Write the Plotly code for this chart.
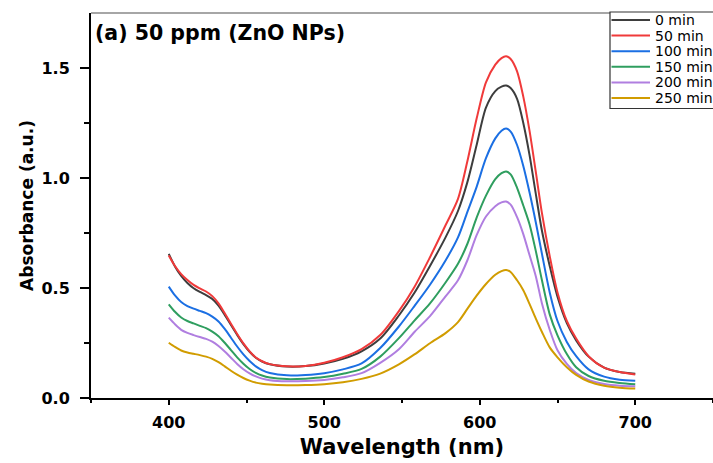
import plotly.graph_objects as go

# UV-Vis absorbance spectra of the dye during photocatalytic degradation
wavelength = [400, 404, 408, 412, 416, 420, 424, 428, 432, 436, 440, 444, 448, 452, 456, 460,
              465, 476, 488, 500, 512, 524, 536, 548, 558, 568, 578, 586, 592, 598, 604, 610,
              614, 617, 620, 624, 628, 632, 636, 640, 645, 650, 656, 662, 670, 680, 690, 700]

abs_0min = [0.655, 0.598, 0.555, 0.523, 0.499, 0.482, 0.468, 0.450, 0.420, 0.378, 0.332, 0.287, 0.245, 0.210, 0.183, 0.166,
            0.153, 0.143, 0.145, 0.157, 0.178, 0.212, 0.270, 0.375, 0.478, 0.600, 0.730, 0.850, 0.980, 1.150, 1.320, 1.395,
            1.415, 1.420, 1.408, 1.360, 1.250, 1.105, 0.930, 0.760, 0.600, 0.460, 0.340, 0.262, 0.188, 0.138, 0.118, 0.110]

abs_50min = [0.648, 0.600, 0.563, 0.536, 0.514, 0.498, 0.484, 0.463, 0.430, 0.385, 0.337, 0.291, 0.248, 0.212, 0.184, 0.167,
             0.154, 0.144, 0.146, 0.160, 0.185, 0.222, 0.286, 0.395, 0.505, 0.640, 0.785, 0.905, 1.075, 1.270, 1.435, 1.515,
             1.545, 1.553, 1.540, 1.485, 1.370, 1.215, 1.030, 0.840, 0.645, 0.480, 0.350, 0.270, 0.190, 0.138, 0.118, 0.107]

abs_100min = [0.506, 0.466, 0.436, 0.418, 0.406, 0.396, 0.386, 0.370, 0.348, 0.314, 0.274, 0.234, 0.198, 0.168, 0.144, 0.127,
              0.114, 0.103, 0.105, 0.113, 0.130, 0.157, 0.227, 0.325, 0.418, 0.515, 0.625, 0.730, 0.845, 0.960, 1.090, 1.180,
              1.215, 1.225, 1.210, 1.150, 1.055, 0.935, 0.800, 0.655, 0.480, 0.350, 0.255, 0.190, 0.130, 0.097, 0.083, 0.078]

abs_150min = [0.426, 0.392, 0.366, 0.350, 0.339, 0.328, 0.318, 0.302, 0.281, 0.251, 0.218, 0.185, 0.156, 0.132, 0.114, 0.102,
              0.093, 0.086, 0.088, 0.095, 0.110, 0.132, 0.188, 0.272, 0.352, 0.430, 0.525, 0.610, 0.700, 0.820, 0.920, 0.995,
              1.022, 1.030, 1.015, 0.955, 0.875, 0.790, 0.670, 0.535, 0.380, 0.285, 0.200, 0.140, 0.100, 0.078, 0.068, 0.062]

abs_200min = [0.365, 0.335, 0.310, 0.296, 0.286, 0.277, 0.269, 0.256, 0.236, 0.211, 0.183, 0.155, 0.131, 0.112, 0.098, 0.088,
              0.081, 0.076, 0.077, 0.082, 0.094, 0.113, 0.160, 0.222, 0.300, 0.372, 0.462, 0.535, 0.625, 0.740, 0.825, 0.872,
              0.889, 0.893, 0.878, 0.822, 0.745, 0.650, 0.555, 0.430, 0.310, 0.217, 0.155, 0.113, 0.082, 0.064, 0.056, 0.053]

abs_250min = [0.251, 0.232, 0.216, 0.207, 0.201, 0.195, 0.188, 0.178, 0.163, 0.144, 0.124, 0.106, 0.091, 0.079, 0.070, 0.065,
              0.061, 0.058, 0.059, 0.063, 0.072, 0.087, 0.111, 0.153, 0.198, 0.249, 0.295, 0.345, 0.405, 0.465, 0.518, 0.560,
              0.577, 0.582, 0.572, 0.535, 0.490, 0.428, 0.362, 0.300, 0.230, 0.185, 0.140, 0.105, 0.075, 0.056, 0.047, 0.043]

series_names = ["0 min", "50 min", "100 min", "150 min", "200 min", "250 min"]
series_values = [abs_0min, abs_50min, abs_100min, abs_150min, abs_200min, abs_250min]
series_colors = ["#3d3d3d", "#f03a3a", "#1b6fe3", "#2f9e5f", "#b07ee0", "#d19c00"]

FONT = "DejaVu Sans"
W, H = 713, 463
M_L, M_R, M_T, M_B = 91, 0, 13, 65
PW, PH = W - M_L - M_R, H - M_T - M_B


def px_to_paper_x(px):
    return (px - M_L) / PW


def px_to_paper_y(py):
    return 1 - (py - M_T) / PH


fig = go.Figure()
for name, vals, color in zip(series_names, series_values, series_colors):
    fig.add_trace(go.Scatter(
        x=wavelength, y=vals, name=name, mode="lines", showlegend=False,
        line=dict(color=color, width=2, shape="spline", smoothing=0.8),
    ))

# Compact key in the upper-right corner: framed box, line samples and labels
shapes = [
    dict(type="line", xref="paper", yref="paper", x0=0, x1=1, y0=1, y1=1,
         line=dict(color="#888888", width=1.5)),
    dict(type="rect", xref="paper", yref="paper",
         x0=px_to_paper_x(610), x1=px_to_paper_x(730),
         y0=px_to_paper_y(108.5), y1=px_to_paper_y(12),
         line=dict(color="#333333", width=1.2), fillcolor="white", layer="above"),
]
annotations = [dict(
    text="<b>(a) 50 ppm (ZnO NPs)</b>", xref="paper", yref="paper",
    x=0.0, xshift=2, y=px_to_paper_y(33), xanchor="left", yanchor="middle", showarrow=False,
    font=dict(family=FONT, size=20.5, color="black"),
)]
for i, (name, color) in enumerate(zip(series_names, series_colors)):
    py = 20 + i * 15.6
    shapes.append(dict(type="line", xref="paper", yref="paper",
                       x0=px_to_paper_x(611.5), x1=px_to_paper_x(650),
                       y0=px_to_paper_y(py), y1=px_to_paper_y(py),
                       line=dict(color=color, width=2), layer="above"))
    annotations.append(dict(text=name, xref="paper", yref="paper",
                            x=px_to_paper_x(653), y=px_to_paper_y(py),
                            xanchor="left", yanchor="middle", showarrow=False,
                            font=dict(family=FONT, size=14, color="black")))

fig.update_layout(
    width=W, height=H,
    margin=dict(l=M_L, r=M_R, t=M_T, b=M_B),
    paper_bgcolor="white", plot_bgcolor="white",
    font=dict(family=FONT, color="black"),
    showlegend=False,
    xaxis=dict(
        range=[350, 750], tickmode="array", tickvals=[400, 500, 600, 700],
        ticks="outside", ticklen=5, tickwidth=2, tickcolor="black",
        showline=True, linecolor="black", linewidth=2,
        showgrid=False, zeroline=False, ticklabelstandoff=4,
        minor=dict(tickvals=[350, 450, 550, 650, 750], ticks="outside", ticklen=3,
                   tickwidth=1.5, tickcolor="black"),
        tickfont=dict(family=FONT, size=16, color="black", weight="bold"),
        title=dict(text="<b>Wavelength (nm)</b>", font=dict(family=FONT, size=21, color="black"),
                   standoff=8),
    ),
    yaxis=dict(
        range=[0, 1.75], tickmode="array", tickvals=[0, 0.5, 1.0, 1.5],
        ticktext=["0.0", "0.5", "1.0", "1.5"],
        ticks="outside", ticklen=9, tickwidth=2, tickcolor="black",
        showline=True, linecolor="black", linewidth=2,
        showgrid=False, zeroline=False, ticklabelstandoff=7,
        minor=dict(tickvals=[0.25, 0.75, 1.25], ticks="outside", ticklen=5,
                   tickwidth=1.5, tickcolor="black"),
        tickfont=dict(family=FONT, size=16, color="black", weight="bold"),
        title=dict(text="<b>Absorbance (a.u.)</b>", font=dict(family=FONT, size=17, color="black"),
                   standoff=4),
    ),
    shapes=shapes,
    annotations=annotations,
)

fig.write_html("out.html")
